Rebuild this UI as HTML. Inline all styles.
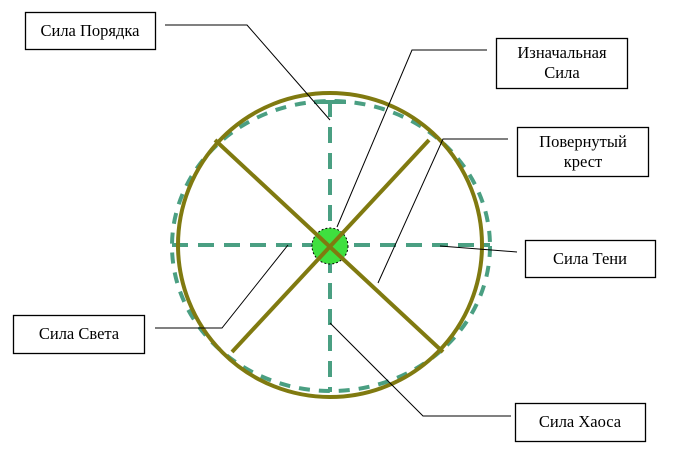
<!DOCTYPE html>
<html><head><meta charset="utf-8"><style>
html,body{margin:0;padding:0;background:#fff;}
svg{display:block;}
text{font-family:"Liberation Serif",serif;font-size:16.5px;fill:#000;}
</style></head><body>
<svg width="675" height="467" viewBox="0 0 675 467" xmlns="http://www.w3.org/2000/svg">
<ellipse cx="331" cy="246" rx="159" ry="145" fill="none" stroke="#4a9f82" stroke-width="4" stroke-dasharray="11 9"/>
<line x1="172" y1="245" x2="490" y2="245" stroke="#4a9f82" stroke-width="4" stroke-dasharray="16 10"/>
<line x1="330" y1="101" x2="330" y2="392" stroke="#4a9f82" stroke-width="4" stroke-dasharray="16 10"/>
<line x1="314" y1="102" x2="346" y2="102" stroke="#4a9f82" stroke-width="4"/>
<circle cx="330" cy="245" r="152" fill="none" stroke="#807a10" stroke-width="4"/>
<circle cx="330" cy="246" r="18" fill="#3fe03f" stroke="#000" stroke-width="1" stroke-dasharray="2 2"/>
<line x1="215" y1="140" x2="443" y2="352" stroke="#807a10" stroke-width="4"/>
<line x1="429" y1="140" x2="232" y2="352" stroke="#807a10" stroke-width="4"/>
<g stroke="#000" stroke-width="1" fill="none">
<polyline points="165,25 247,25 330,120"/>
<polyline points="487,50 412,50 337,227"/>
<polyline points="508,139 443,139 378,283"/>
<polyline points="517,252 440,246"/>
<polyline points="155,328 222,328 288,245"/>
<polyline points="511,416 423,416 330,323"/>
</g>
<g fill="#fff" stroke="#000" stroke-width="1.3">
<rect x="25.5" y="12.5" width="130" height="37"/>
<rect x="496.5" y="38.5" width="131" height="50"/>
<rect x="517.5" y="127.5" width="131" height="49"/>
<rect x="525.5" y="240.5" width="130" height="37"/>
<rect x="13.5" y="315.5" width="131" height="38"/>
<rect x="515.5" y="403.5" width="130" height="38"/>
</g>
<text x="90" y="36" text-anchor="middle">Сила Порядка</text>
<text x="562" y="58" text-anchor="middle">Изначальная</text>
<text x="562" y="78" text-anchor="middle">Сила</text>
<text x="583" y="147" text-anchor="middle">Повернутый</text>
<text x="583" y="167" text-anchor="middle">крест</text>
<text x="590" y="264" text-anchor="middle">Сила Тени</text>
<text x="79" y="339" text-anchor="middle">Сила Света</text>
<text x="580" y="427" text-anchor="middle">Сила Хаоса</text>
</svg>
</body></html>
